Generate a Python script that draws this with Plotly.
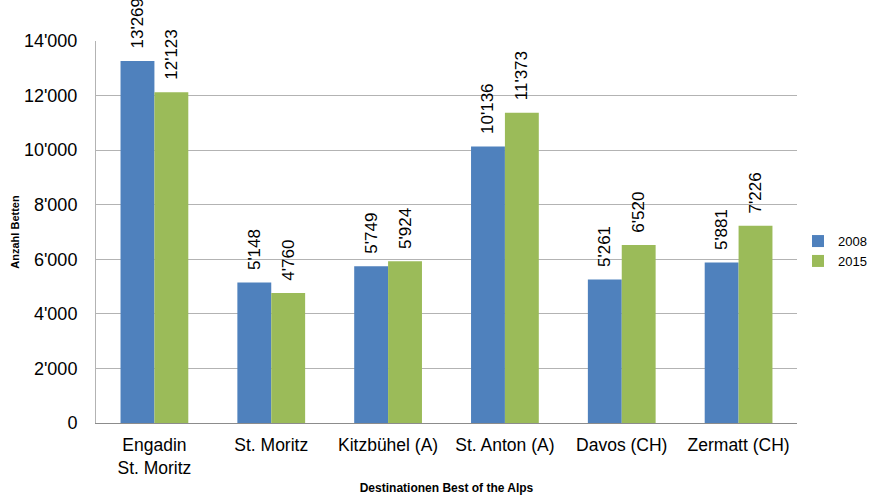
import plotly.graph_objects as go

categories = ["Engadin<br>St. Moritz", "St. Moritz", "Kitzbühel (A)", "St. Anton (A)", "Davos (CH)", "Zermatt (CH)"]
values_2008 = [13269, 5148, 5749, 10136, 5261, 5881]
values_2015 = [12123, 4760, 5924, 11373, 6520, 7226]

fig = go.Figure()
for name, vals, color in [("2008", values_2008, "#4f81bd"), ("2015", values_2015, "#9bbb59")]:
    fig.add_trace(go.Bar(
        x=categories, y=vals, name=name, marker_color=color,
        marker_line_width=0,
        texttemplate="\u00a0\u00a0%{y:,}", textposition="outside", textangle=-90,
        textfont=dict(family="Liberation Sans, Arial", size=17, color="black"),
        cliponaxis=False, constraintext="none",
    ))

fig.update_layout(
    width=870, height=498,
    margin=dict(l=96, r=73, t=41, b=75, autoexpand=False),
    separators=".'",
    barmode="group", bargap=0.42, bargroupgap=0,
    plot_bgcolor="white", paper_bgcolor="white",
    font=dict(family="Liberation Sans, Arial", color="black"),
    legend=dict(x=1.0014, y=0.45, xanchor="left", yanchor="middle",
                font=dict(size=13), itemwidth=30),
    showlegend=True,
)
fig.update_yaxes(
    range=[0, 14000], dtick=2000, tickformat=",",
    showgrid=True, gridcolor="#b3b3b3", gridwidth=1,
    showline=True, linecolor="#b3b3b3", linewidth=1,
    ticks="", ticklabelstandoff=14,
    tickfont=dict(size=18),
    title=dict(text="<b>Anzahl Betten</b>", font=dict(size=11), standoff=2),
    zeroline=False,
)
fig.update_xaxes(
    showline=True, linecolor="#8c8c8c", linewidth=1,
    tickfont=dict(size=17.5),
    ticklabelstandoff=6,
    title=dict(text="<b>Destinationen Best of the Alps</b>", font=dict(size=12), standoff=6),
)
fig.write_html("out.html", config={"displayModeBar": False},
               post_script="document.body.style.margin='0';document.body.style.overflow='hidden';")
